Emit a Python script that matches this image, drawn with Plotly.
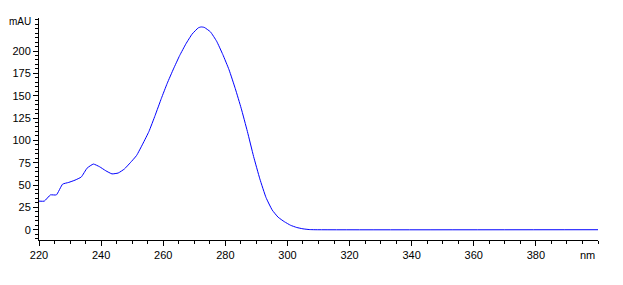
import plotly.graph_objects as go

wavelength = [220, 221.7, 223.7, 225.6, 227.6, 229.6, 231.6, 233.6, 235.5, 237.5, 239.5,
              241.5, 243.5, 245.5, 247.5, 249.4, 251.4, 253.4, 255.4, 257.4, 259.4,
              261.3, 263.3, 265.3, 267.3, 269.3, 271.3, 272.2, 273.2, 275.2, 277.2,
              279.2, 281.2, 283.2, 285.1, 287.1, 289.1, 291.1, 293.1, 295.1, 297.0,
              299.0, 301.0, 303.0, 305.0, 307.0, 308.9, 400]
absorbance = [32, 32, 39, 39, 51, 53, 55.5, 59, 69, 73.5, 70.5, 66, 62.5, 63.5, 68,
              75, 83, 96, 110, 128, 147, 164, 180, 195, 208, 219, 226, 227, 226.5, 221.5,
              211, 196, 179, 158, 136, 110, 82, 57, 36, 22, 14, 9, 5, 2.5, 1,
              0.2, 0, 0]

x_tickvals = [220, 240, 260, 280, 300, 320, 340, 360, 380]
y_tickvals = [0, 25, 50, 75, 100, 125, 150, 175, 200]

fig = go.Figure()
fig.add_trace(go.Scatter(x=wavelength, y=absorbance, mode="lines",
                         line=dict(color="#0000ff", width=1, shape="spline", smoothing=0.4),
                         showlegend=False))

fig.update_layout(
    width=623, height=285,
    margin=dict(l=37, r=25, t=18, b=45),
    paper_bgcolor="white", plot_bgcolor="white",
    font=dict(family="Liberation Sans, Arial, sans-serif", size=11, color="black"),
    xaxis=dict(range=[220, 400], tickvals=x_tickvals,
               showgrid=False, zeroline=False, showline=True, linecolor="black", linewidth=1,
               ticks="outside", ticklen=5, tickcolor="black",
               minor=dict(dtick=5, ticks="outside", ticklen=3, tickcolor="black")),
    yaxis=dict(range=[-11.5, 237], tickvals=y_tickvals,
               showgrid=False, zeroline=False, showline=True, linecolor="black", linewidth=1,
               ticks="outside", ticklen=5, tickcolor="black",
               minor=dict(dtick=5, ticks="outside", ticklen=3, tickcolor="black")),
    annotations=[
        dict(text="mAU", xref="paper", yref="y", x=0, y=233, xanchor="right",
             yanchor="middle", xshift=-6, showarrow=False,
             font=dict(size=10, color="black")),
        dict(text="nm", xref="paper", yref="paper", x=1, y=0, xanchor="right",
             yanchor="top", xshift=-1, yshift=-7, showarrow=False,
             font=dict(size=11, color="black")),
    ],
)

fig.write_html("out.html")
